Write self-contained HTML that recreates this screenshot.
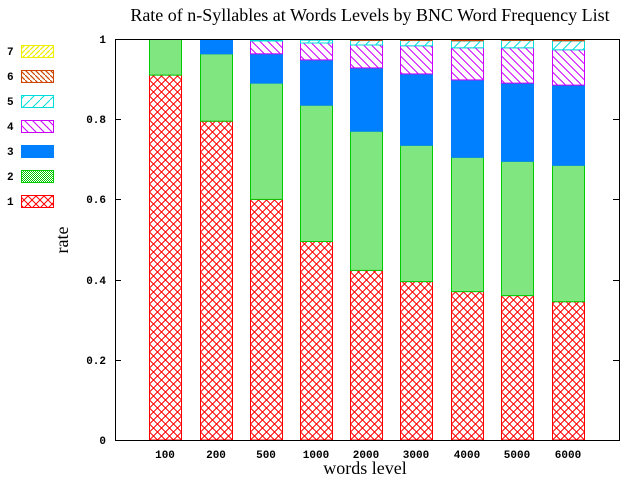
<!DOCTYPE html>
<html><head><style>body{margin:0;background:#fff}svg{display:block}</style></head><body>
<svg width="640" height="480" xmlns="http://www.w3.org/2000/svg">
<defs>
<pattern id="p1" width="8" height="8" patternUnits="userSpaceOnUse"><rect width="8" height="8" fill="#fff"/><path d="M0,0L8,8M8,0L0,8" stroke="#f00" stroke-width="1"/></pattern>
<pattern id="p2" width="2" height="2" patternUnits="userSpaceOnUse"><rect width="2" height="2" fill="#fff"/><rect width="1" height="1" fill="#0c0"/><rect x="1" y="1" width="1" height="1" fill="#0c0"/></pattern>
<pattern id="p4" width="8" height="8" patternUnits="userSpaceOnUse"><rect width="8" height="8" fill="#fff"/><path d="M0,0L8,8M-4,4L4,12M4,-4L12,4" stroke="#c0f" stroke-width="1"/></pattern>
<pattern id="p5" width="10" height="10" patternUnits="userSpaceOnUse"><rect width="10" height="10" fill="#fff"/><path d="M0,10L10,0" stroke="#0dd" stroke-width="1"/></pattern>
<pattern id="p6" width="5" height="5" patternUnits="userSpaceOnUse"><rect width="5" height="5" fill="#fff"/><path d="M0,0L5,5" stroke="#c40" stroke-width="1.2"/></pattern>
<pattern id="p7" width="5" height="5" patternUnits="userSpaceOnUse"><rect width="5" height="5" fill="#fff"/><path d="M0,5L5,0" stroke="#ee0" stroke-width="1.2"/></pattern>
</defs>
<text x="370" y="21" font-family="Liberation Serif,serif" font-size="18" text-anchor="middle">Rate of n-Syllables at Words Levels by BNC Word Frequency List</text>
<g font-family="Liberation Mono,monospace" font-size="11" font-weight="bold">
<text x="7" y="55">7</text><rect x="21.5" y="45.5" width="32" height="12" fill="url(#p7)" stroke="#ee0"/>
<text x="7" y="80">6</text><rect x="21.5" y="70.5" width="32" height="12" fill="url(#p6)" stroke="#c40"/>
<text x="7" y="105">5</text><rect x="21.5" y="95.5" width="32" height="12" fill="url(#p5)" stroke="#0dd"/>
<text x="7" y="130">4</text><rect x="21.5" y="120.5" width="32" height="12" fill="url(#p4)" stroke="#c0f"/>
<text x="7" y="155">3</text><rect x="21.5" y="145.5" width="32" height="12" fill="#0080ff" stroke="#0080ff"/>
<text x="7" y="180">2</text><rect x="21.5" y="170.5" width="32" height="12" fill="url(#p2)" stroke="#0c0"/>
<text x="7" y="205">1</text><rect x="21.5" y="195.5" width="32" height="12" fill="url(#p1)" stroke="#f00"/>
<g text-anchor="end">
<text x="106" y="444">0</text><text x="106" y="364">0.2</text><text x="106" y="284">0.4</text><text x="106" y="203">0.6</text><text x="106" y="123">0.8</text><text x="106" y="43">1</text>
</g>
<g text-anchor="middle">
<text x="165" y="458">100</text><text x="216" y="458">200</text><text x="266" y="458">500</text><text x="316" y="458">1000</text><text x="366" y="458">2000</text><text x="416" y="458">3000</text><text x="467" y="458">4000</text><text x="517" y="458">5000</text><text x="568" y="458">6000</text>
</g>
</g>
<text x="365" y="474" font-family="Liberation Serif,serif" font-size="18" text-anchor="middle">words level</text>
<text transform="translate(68,240) rotate(-90)" font-family="Liberation Serif,serif" font-size="18" text-anchor="middle">rate</text>
<g stroke-width="1">
<g transform="translate(149.5,0)">
<rect y="75.1" width="32" height="364.9" fill="url(#p1)" stroke="#f00"/>
<rect y="39.5" width="32" height="35.6" fill="url(#p2)" stroke="#0c0"/>
</g>
<g transform="translate(200.5,0)">
<rect y="121.2" width="32" height="318.8" fill="url(#p1)" stroke="#f00"/>
<rect y="53.8" width="32" height="67.4" fill="url(#p2)" stroke="#0c0"/>
<rect y="39.5" width="32" height="14.3" fill="#0080ff" stroke="#0080ff"/>
</g>
<g transform="translate(250.5,0)">
<rect y="199.4" width="32" height="240.6" fill="url(#p1)" stroke="#f00"/>
<rect y="83.1" width="32" height="116.3" fill="url(#p2)" stroke="#0c0"/>
<rect y="53.8" width="32" height="29.3" fill="#0080ff" stroke="#0080ff"/>
<rect y="41" width="32" height="12.8" fill="url(#p4)" stroke="#c0f"/>
<rect y="39.8" width="32" height="1.2" fill="#0dd" stroke="#0dd"/>
</g>
<g transform="translate(300.5,0)">
<rect y="241.5" width="32" height="198.5" fill="url(#p1)" stroke="#f00"/>
<rect y="105.2" width="32" height="136.3" fill="url(#p2)" stroke="#0c0"/>
<rect y="59.9" width="32" height="45.3" fill="#0080ff" stroke="#0080ff"/>
<rect y="43" width="32" height="16.9" fill="url(#p4)" stroke="#c0f"/>
<rect y="40.2" width="32" height="2.8" fill="url(#p5)" stroke="#0dd"/>
</g>
<g transform="translate(350.5,0)">
<rect y="270.4" width="32" height="169.6" fill="url(#p1)" stroke="#f00"/>
<rect y="131.2" width="32" height="139.2" fill="url(#p2)" stroke="#0c0"/>
<rect y="67.9" width="32" height="63.3" fill="#0080ff" stroke="#0080ff"/>
<rect y="45" width="32" height="22.9" fill="url(#p4)" stroke="#c0f"/>
<rect y="40.6" width="32" height="4.4" fill="url(#p5)" stroke="#0dd"/>
<rect y="39.5" width="32" height="1.1" fill="#c40" stroke="#c40" stroke-width="0.5"/>
</g>
<g transform="translate(400.5,0)">
<rect y="281.6" width="32" height="158.4" fill="url(#p1)" stroke="#f00"/>
<rect y="145.3" width="32" height="136.3" fill="url(#p2)" stroke="#0c0"/>
<rect y="73.9" width="32" height="71.4" fill="#0080ff" stroke="#0080ff"/>
<rect y="45.8" width="32" height="28.1" fill="url(#p4)" stroke="#c0f"/>
<rect y="40.6" width="32" height="5.2" fill="url(#p5)" stroke="#0dd"/>
<rect y="39.5" width="32" height="1.1" fill="#c40" stroke="#c40" stroke-width="0.5"/>
</g>
<g transform="translate(451.5,0)">
<rect y="291.6" width="32" height="148.4" fill="url(#p1)" stroke="#f00"/>
<rect y="157.3" width="32" height="134.3" fill="url(#p2)" stroke="#0c0"/>
<rect y="79.9" width="32" height="77.4" fill="#0080ff" stroke="#0080ff"/>
<rect y="47.8" width="32" height="32.1" fill="url(#p4)" stroke="#c0f"/>
<rect y="41" width="32" height="6.8" fill="url(#p5)" stroke="#0dd"/>
<rect y="39.5" width="32" height="1.5" fill="#c40" stroke="#c40" stroke-width="0.5"/>
</g>
<g transform="translate(501.5,0)">
<rect y="295.6" width="32" height="144.4" fill="url(#p1)" stroke="#f00"/>
<rect y="161.3" width="32" height="134.3" fill="url(#p2)" stroke="#0c0"/>
<rect y="83.1" width="32" height="78.2" fill="#0080ff" stroke="#0080ff"/>
<rect y="47.8" width="32" height="35.3" fill="url(#p4)" stroke="#c0f"/>
<rect y="40.6" width="32" height="7.2" fill="url(#p5)" stroke="#0dd"/>
<rect y="39.5" width="32" height="1.1" fill="#c40" stroke="#c40" stroke-width="0.5"/>
</g>
<g transform="translate(552.5,0)">
<rect y="301.7" width="32" height="138.3" fill="url(#p1)" stroke="#f00"/>
<rect y="165.3" width="32" height="136.4" fill="url(#p2)" stroke="#0c0"/>
<rect y="85.1" width="32" height="80.2" fill="#0080ff" stroke="#0080ff"/>
<rect y="49.8" width="32" height="35.3" fill="url(#p4)" stroke="#c0f"/>
<rect y="41" width="32" height="8.8" fill="url(#p5)" stroke="#0dd"/>
<rect y="39.5" width="32" height="1.5" fill="#c40" stroke="#c40" stroke-width="0.5"/>
</g>
</g>
<rect x="115.5" y="39.5" width="504" height="401" fill="none" stroke="#000"/>
<g stroke="#000">
<path d="M115,360.5h6M115,280.5h6M115,199.5h6M115,119.5h6M619,360.5h-6M619,280.5h-6M619,199.5h-6M619,119.5h-6"/>
</g>
</svg>
</body></html>
